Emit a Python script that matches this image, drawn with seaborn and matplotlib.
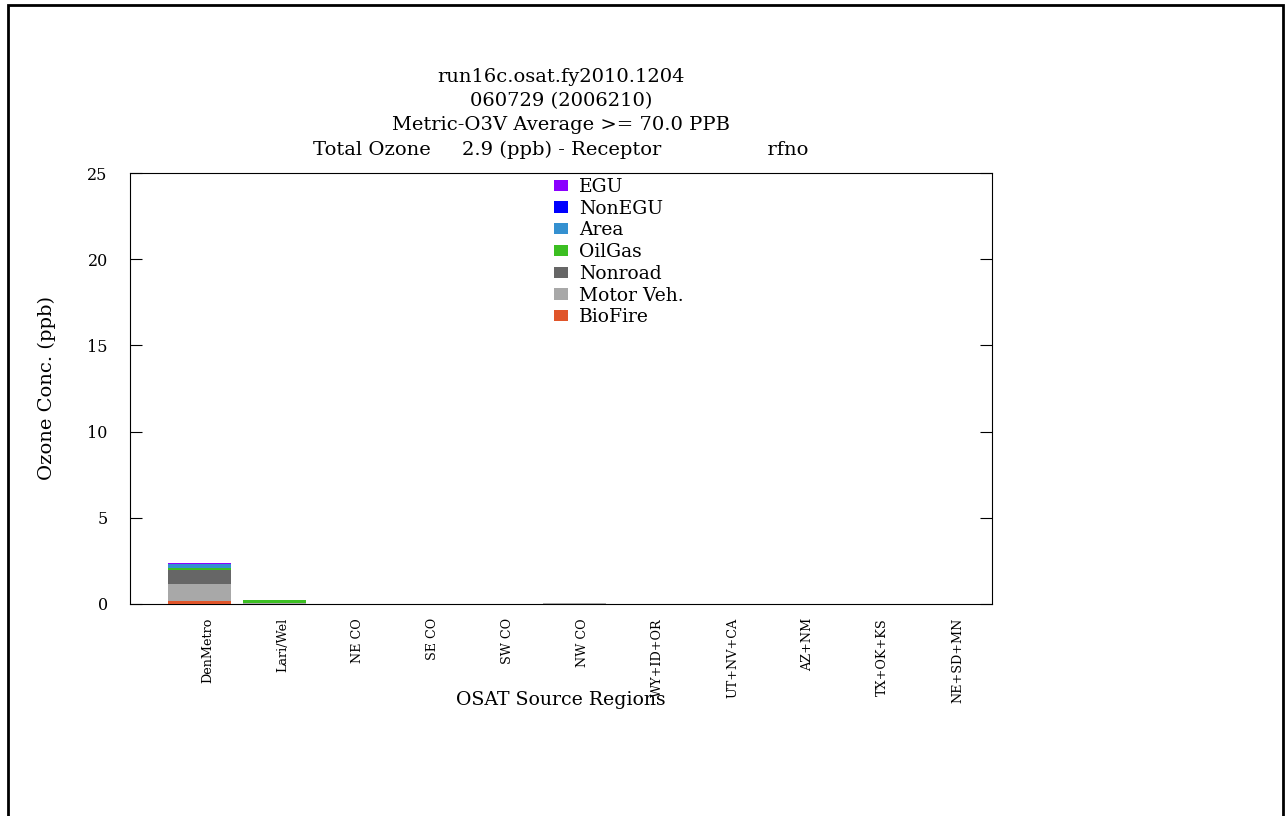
import matplotlib
matplotlib.use("Agg")
import matplotlib.pyplot as plt
from matplotlib.patches import Patch, Rectangle
from matplotlib.transforms import ScaledTranslation
import numpy as np
import pandas as pd
import seaborn as sns

# Source regions along the x axis
regions = ["DenMetro", "Lari/Wel", "NE CO", "SE CO", "SW CO", "NW CO",
           "WY+ID+OR", "UT+NV+CA", "AZ+NM", "TX+OK+KS", "NE+SD+MN"]

# Ozone contribution (ppb) by source sector, stacked bottom to top
biofire   = [0.17, 0.00, 0.0, 0.0, 0.0, 0.00, 0.0, 0.0, 0.0, 0.0, 0.0]
motor_veh = [0.99, 0.05, 0.0, 0.0, 0.0, 0.05, 0.0, 0.0, 0.0, 0.0, 0.0]
nonroad   = [0.83, 0.02, 0.0, 0.0, 0.0, 0.00, 0.0, 0.0, 0.0, 0.0, 0.0]
oilgas    = [0.08, 0.15, 0.0, 0.0, 0.0, 0.00, 0.0, 0.0, 0.0, 0.0, 0.0]
area      = [0.23, 0.00, 0.0, 0.0, 0.0, 0.00, 0.0, 0.0, 0.0, 0.0, 0.0]
nonegu    = [0.04, 0.00, 0.0, 0.0, 0.0, 0.00, 0.0, 0.0, 0.0, 0.0, 0.0]
egu       = [0.06, 0.00, 0.0, 0.0, 0.0, 0.00, 0.0, 0.0, 0.0, 0.0, 0.0]

sectors = ["BioFire", "Motor Veh.", "Nonroad", "OilGas", "Area", "NonEGU", "EGU"]
values = [biofire, motor_veh, nonroad, oilgas, area, nonegu, egu]
colors = ["#e0552a", "#a8a8a8", "#666666", "#3cbf22", "#3490d0", "#0000ff", "#8a00ff"]

title_lines = ["run16c.osat.fy2010.1204",
               "060729 (2006210)",
               "Metric-O3V Average >= 70.0 PPB",
               "Total Ozone     2.9 (ppb) - Receptor                 rfno"]

sns.set_theme(style="white")
plt.rcParams["font.family"] = ["DejaVu Serif"]

W, H = 1285, 816
fig = plt.figure(figsize=(W / 100, H / 100), dpi=100)
fig.patch.set_facecolor("white")
ax = fig.add_axes([130 / W, 1 - 604 / H, (992 - 130) / W, (604 - 173) / H])

# Stacked bars: draw cumulative totals from the top sector down
df = pd.DataFrame(dict(zip(sectors, values)), index=regions)
cum = df.cumsum(axis=1)
for sector, color in zip(reversed(sectors), reversed(colors)):
    sns.barplot(x=regions, y=cum[sector].values, color=color, width=0.84,
                linewidth=0, saturation=1, ax=ax, zorder=3)

ax.set_xlim(-0.927, 10.567)
ax.set_ylim(0, 25)
ax.set_yticks([0, 5, 10, 15, 20, 25])
ax.set_yticklabels(["0", "5", "10", "15", "20", "25"])
ax.tick_params(axis="y", direction="in", length=8.5, width=0.8, color="black",
               left=True, right=True, labelsize=11.5, pad=16, labelcolor="black")
ax.tick_params(axis="x", length=0, labelsize=9.2, pad=10, labelcolor="black")
ax.set_xticks(range(len(regions)))
ax.set_xticklabels(regions, rotation=90, va="top", ha="center")
shift = ScaledTranslation(8 / 100, 0, fig.dpi_scale_trans)
for lab in ax.get_xticklabels():
    lab.set_transform(lab.get_transform() + shift)

for sp in ax.spines.values():
    sp.set_visible(True)
    sp.set_color("black")
    sp.set_linewidth(0.8)
    sp.set_zorder(2)
ax.grid(False)

ax.set_ylabel("Ozone Conc. (ppb)", fontsize=14, color="black")
ax.yaxis.set_label_coords(-0.086, 0.5)
ax.set_xlabel("OSAT Source Regions", fontsize=13.6, color="black")
ax.xaxis.set_label_coords(0.5, -0.203)

for i, line in enumerate(title_lines):
    yc = [77, 101, 125, 150][i]
    fig.text(561 / W, 1 - yc / H, line, ha="center", va="center",
             fontsize=14, color="black")

handles = [Patch(facecolor=c, edgecolor="none") for c in reversed(colors)]
leg = ax.legend(handles, list(reversed(sectors)), loc="upper left",
                bbox_to_anchor=(0.490, 0.993), frameon=False, fontsize=13.5,
                handlelength=0.75, handleheight=0.53, handletextpad=0.58,
                labelspacing=0.2, borderpad=0.1, borderaxespad=0,
                labelcolor="black")

# Outer page frame
fig.patches.append(Rectangle((8 / W, -0.05), (1283 - 8) / W, 1.05 - 5 / H,
                             transform=fig.transFigure, fill=False,
                             edgecolor="black", linewidth=2))

fig.savefig("out.png", dpi=100, facecolor="white")
